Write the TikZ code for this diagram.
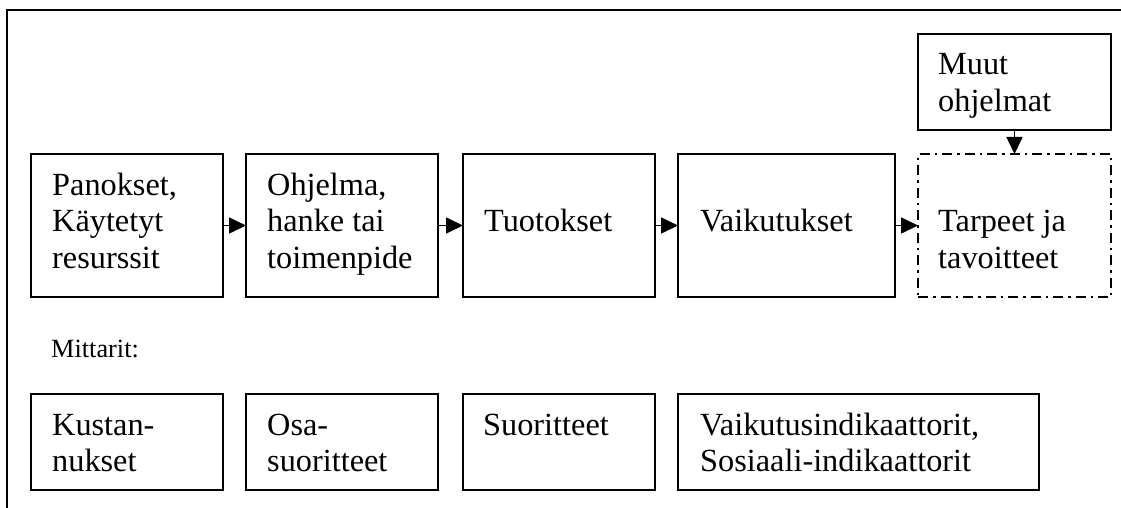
\documentclass[tikz,border=0pt]{standalone}
\usepackage{fontspec}
\setmainfont{Liberation Serif}
\usetikzlibrary{arrows.meta,calc}

% multi-line label whose baseline is its first line
\newcommand{\lines}[1]{\begin{tabular}[t]{@{}l@{}}#1\end{tabular}}

\begin{document}
\begin{tikzpicture}[x=1pt,y=-1pt,
  frame/.style={line width=2pt},
  box/.style={draw,line width=1.8pt,inner sep=0pt,outer sep=0pt,anchor=north west},
  topbox/.style={box,minimum height=143pt},
  lowbox/.style={box,minimum height=96pt},
  goalbox/.style={topbox,dash pattern=on 10pt off 5pt on 2.5pt off 5pt},
  lbl/.style={anchor=base west,inner sep=0pt,font=\fontsize{32.3}{36.5}\selectfont},
  small/.style={anchor=base west,inner sep=0pt,font=\fontsize{26.3}{30}\selectfont},
  arr/.style={line width=1.6pt,-{Triangle[length=17pt,width=16pt]}}]

\useasboundingbox (0,0) rectangle (1121,508);

% surrounding frame, open to the right and bottom
\draw[frame] (1121,10) -- (7,10) -- (7,508);

% process chain
\node[topbox,minimum width=192pt] (pan) at (31,154) {};
\node[topbox,minimum width=192pt] (ohj) at (246,154) {};
\node[topbox,minimum width=192pt] (tuo) at (463,154) {};
\node[topbox,minimum width=217pt] (vai) at (678,154) {};
\node[goalbox,minimum width=193pt] (tar) at (918,154) {};
\node[box,minimum width=193pt,minimum height=96pt] (muu) at (918,34) {};

\node[lbl] (panL) at ($(pan.north west)+(21,41)$) {\lines{Panokset,\\Käytetyt\\resurssit}};
\node[lbl] (ohjL) at ($(ohj.north west)+(21,41)$) {\lines{Ohjelma,\\hanke tai\\toimenpide}};
\node[lbl] (tuoL) at ($(tuo.north west)+(21,77.5)$) {Tuotokset};
\node[lbl] (vaiL) at ($(vai.north west)+(22,77.5)$) {Vaikutukset};
\node[lbl] (tarL) at ($(tar.north west)+(20,77.5)$) {\lines{Tarpeet ja\\tavoitteet}};
\node[lbl] (muuL) at ($(muu.north west)+(20,41)$) {\lines{Muut\\ohjelmat}};

\draw[arr] (pan.east) -- (ohj.west);
\draw[arr] (ohj.east) -- (tuo.west);
\draw[arr] (tuo.east) -- (vai.west);
\draw[arr] (vai.east) -- (tar.west);
\draw[arr] (muu.south) -- (tar.north);

% indicators
\node[small] (mit) at (51,357) {Mittarit:};

\node[lowbox,minimum width=192pt] (kus) at (31,394) {};
\node[lowbox,minimum width=192pt] (osa) at (246,394) {};
\node[lowbox,minimum width=192pt] (suo) at (463,394) {};
\node[lowbox,minimum width=361pt] (ind) at (678,394) {};

\node[lbl] (kusL) at ($(kus.north west)+(21,41)$) {\lines{Kustan-\\nukset}};
\node[lbl] (osaL) at ($(osa.north west)+(21,41)$) {\lines{Osa-\\suoritteet}};
\node[lbl] (suoL) at ($(suo.north west)+(20,41)$) {Suoritteet};
\node[lbl] (indL) at ($(ind.north west)+(22,41)$) {\lines{Vaikutusindikaattorit,\\Sosiaali-indikaattorit}};

\end{tikzpicture}
\end{document}
